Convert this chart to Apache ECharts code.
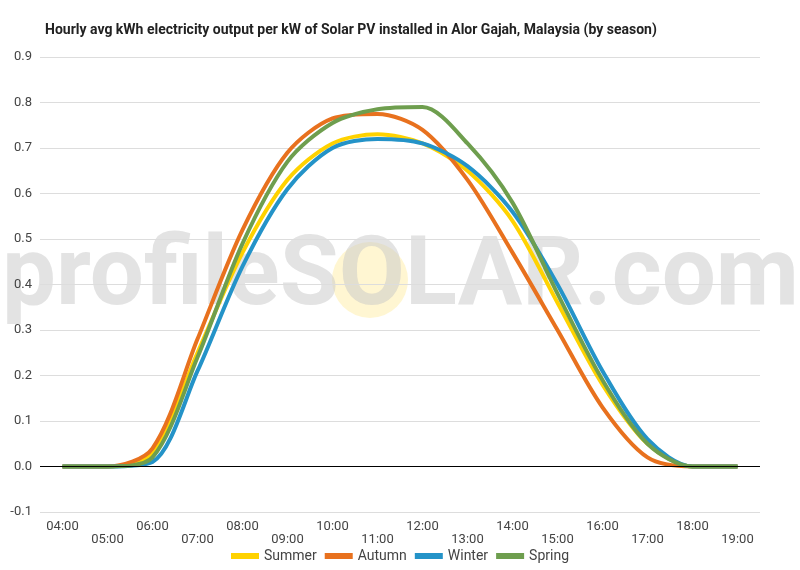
<!DOCTYPE html>
<html>
<head>
<meta charset="utf-8" />
<script src="https://cdn.jsdelivr.net/npm/echarts@6/dist/echarts.min.js"></script>
<style>body{margin:0;background:#fff}</style>
</head>
<body>
<div id="main" style="width:800px;height:570px;"></div>
<script>
var hours = ['04:00','05:00','06:00','07:00','08:00','09:00','10:00','11:00','12:00','13:00','14:00','15:00','16:00','17:00','18:00','19:00'];
var summer = [0, 0, 0.03, 0.25, 0.47, 0.63, 0.71, 0.73, 0.71, 0.65, 0.54, 0.36, 0.18, 0.05, 0, 0];
var autumn = [0, 0, 0.04, 0.28, 0.52, 0.69, 0.765, 0.775, 0.74, 0.63, 0.47, 0.30, 0.13, 0.02, 0, 0];
var winter = [0, 0, 0.01, 0.21, 0.44, 0.61, 0.70, 0.72, 0.71, 0.66, 0.56, 0.40, 0.21, 0.06, 0, 0];
var spring = [0, 0, 0.02, 0.24, 0.49, 0.67, 0.755, 0.785, 0.79, 0.71, 0.58, 0.38, 0.19, 0.05, 0, 0];

var chart = echarts.init(document.getElementById('main'));
function line(name, data, color) {
    return {name: name, type: 'line', data: data, smooth: 0.3, symbol: 'none',
        lineStyle: {width: 4, color: color}, itemStyle: {color: color}};
}
chart.setOption({
    textStyle: {fontFamily: 'Roboto'},
    title: {text: 'Hourly avg kWh electricity output per kW of Solar PV installed in Alor Gajah, Malaysia (by season)',
        left: 40, top: 18, textStyle: {fontSize: 14, fontWeight: 'bold', color: '#222'}},
    graphic: [
        {type: 'circle', shape: {cx: 370, cy: 280, r: 38}, style: {fill: 'rgba(255,240,180,0.6)'}, z: 0},
        {type: 'text', left: 2, top: 232, z: 0,
            style: {text: 'profileSOLAR.com', font: 'bold 96px Roboto', fill: 'rgba(200,200,200,0.5)'}}
    ],
    legend: {bottom: 2, itemWidth: 28, itemHeight: 6, icon: 'rect', textStyle: {fontSize: 14, color: '#444'},
        data: ['Summer', 'Autumn', 'Winter', 'Spring']},
    grid: {left: 40, right: 40, top: 57, bottom: 58},
    xAxis: {type: 'category', data: hours, boundaryGap: true,
        axisLine: {show: false}, axisTick: {show: false},
        axisLabel: {interval: 0, fontSize: 13, color: '#444',
            formatter: function (v, i) { return i % 2 ? '\n' + v : v; }}},
    yAxis: {type: 'value', min: -0.1, max: 0.9, interval: 0.1,
        axisLabel: {fontSize: 13, color: '#444', formatter: function (v) { return v.toFixed(1); }},
        splitLine: {lineStyle: {color: '#ddd'}}},
    series: [
        line('Summer', summer, '#ffd200'),
        line('Autumn', autumn, '#e8711e'),
        line('Winter', winter, '#2493c8'),
        line('Spring', spring, '#6e9e4e'),
        {type: 'line', data: [], markLine: {silent: true, symbol: 'none', label: {show: false},
            lineStyle: {color: '#000', type: 'solid', width: 1}, data: [{yAxis: 0}]}}
    ]
});
</script>
</body>
</html>
